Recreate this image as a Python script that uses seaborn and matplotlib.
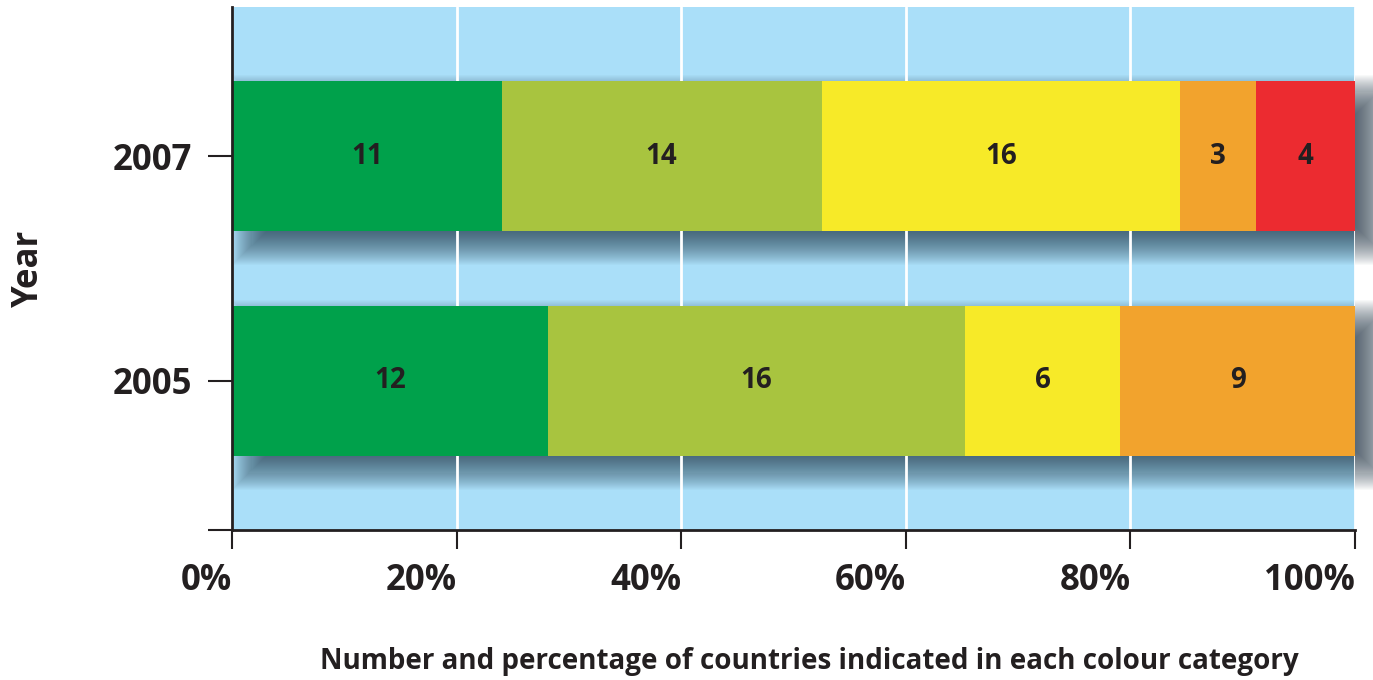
import numpy as np
import pandas as pd
import matplotlib
matplotlib.use("Agg")
import matplotlib.pyplot as plt
import matplotlib.transforms as mtransforms
import seaborn as sns

# datos
years = ["2007", "2005"]
categorias = ["verde", "verde claro", "amarillo", "naranja", "rojo"]
colores = ["#00A14B", "#A8C43F", "#F7EA28", "#F2A32D", "#EC2B30"]
pct_2007 = [24.0, 28.5, 31.9, 6.8, 8.8]
pct_2005 = [28.1, 37.2, 13.8, 20.9, 0.0]
num_2007 = [11, 14, 16, 3, 4]
num_2005 = [12, 16, 6, 9, 0]
xticks = [0, 20, 40, 60, 80, 100]
xticklabels = ["0%", "20%", "40%", "60%", "80%", "100%"]

texto = "#231F20"
fondo = "#AADFF9"

sns.set_style("white")
plt.rcParams["font.family"] = ["Open Sans", "DejaVu Sans"]

fig = plt.figure(figsize=(13.73, 6.80), dpi=100)
ax = fig.add_axes([232 / 1373, 150 / 680, 1123 / 1373, 523 / 680])
ax.set_facecolor(fondo)

df = pd.DataFrame({"year": years})
cum = np.cumsum(np.array([pct_2007, pct_2005]), axis=1)
alto = 0.67

# sombra difusa bajo las barras (capas semitransparentes)
px_x = 100 / 1123
px_y = 2.33 / 523
sombra = mtransforms.offset_copy(ax.transData, fig=fig, x=20, y=-14, units="dots")
n = 40
radio = 20
for i in range(n):
    e = radio * (1 - 2 * i / (n - 1))
    for p in range(len(years)):
        ax.barh(p, 100 + 2 * e * px_x, left=-e * px_x, height=alto + 2 * e * px_y,
                color="#1c3040", alpha=0.028, linewidth=0, transform=sombra,
                zorder=0.3, clip_on=False)

# barras apiladas: acumulados dibujados de mayor a menor
for k in range(len(categorias) - 1, -1, -1):
    df["x"] = cum[:, k]
    sns.barplot(data=df, x="x", y="year", order=years, color=colores[k],
                saturation=1, width=alto, errorbar=None, linewidth=0,
                orient="h", ax=ax, zorder=2)

# etiquetas con el numero de paises
for p, nums in enumerate([num_2007, num_2005]):
    izq = np.concatenate([[0], cum[p, :-1]])
    for k, v in enumerate(nums):
        if v == 0:
            continue
        ax.text(izq[k] + (cum[p, k] - izq[k]) / 2, p, str(v), ha="center",
                va="center", fontsize=20, fontweight="bold", color=texto, zorder=3)

ax.set_xlim(0, 100)
ax.set_ylim(1.665, -0.665)
ax.set_xticks(xticks)
ax.set_xticklabels(xticklabels, fontsize=25, fontweight="bold", color=texto, ha="right")
ax.set_yticks([0, 1, 1.665])
ax.set_yticklabels(years + [""], fontsize=25, fontweight="bold", color=texto)
ax.grid(axis="x", color="white", linewidth=2)
ax.set_axisbelow(True)

for s in ["top", "right"]:
    ax.spines[s].set_visible(False)
for s in ["left", "bottom"]:
    ax.spines[s].set_color(texto)
    ax.spines[s].set_linewidth(2)
    ax.spines[s].set_zorder(4)
ax.tick_params(axis="x", bottom=True, length=14, width=1.5, color=texto, pad=10)
ax.tick_params(axis="y", left=True, length=17, width=1.5, color=texto, pad=12)

ax.set_xlabel("Number and percentage of countries indicated in each colour category",
              fontsize=20, fontweight="bold", color=texto)
ax.set_ylabel("Year", fontsize=25, fontweight="bold", color=texto)
ax.xaxis.set_label_coords(0.514, -0.224)
ax.yaxis.set_label_coords(-0.165, 0.5)

fig.savefig("out.png", dpi=100)
